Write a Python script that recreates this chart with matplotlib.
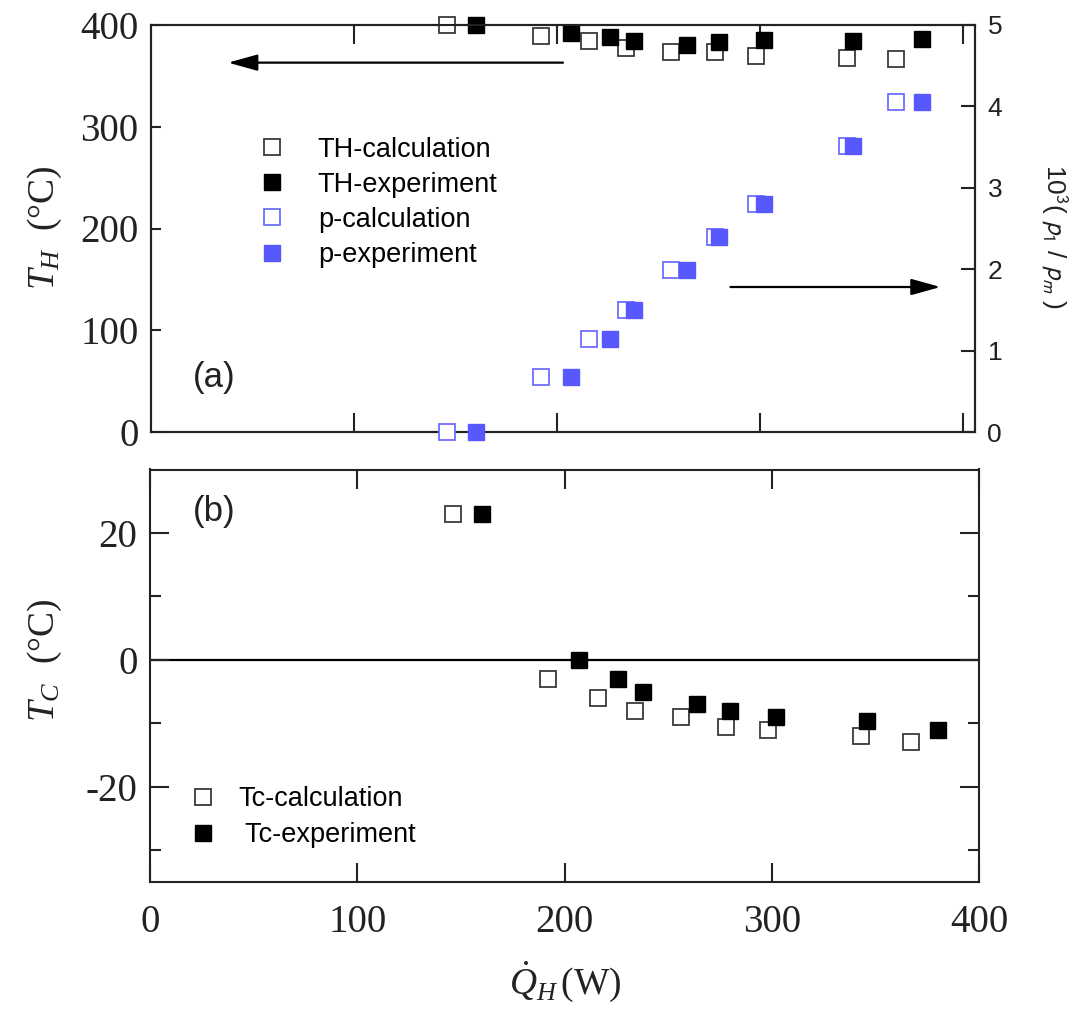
import matplotlib
matplotlib.use('Agg')
import matplotlib.pyplot as plt

# ---------------- data ----------------
q_calc = [146, 192, 216, 234, 256, 278, 298, 343, 367]
q_exp = [160, 207, 226, 238, 264, 280, 302, 346, 380]
th_calc = [400, 389, 384, 377, 373, 373, 370, 368, 367]
th_exp = [400, 392, 388, 384, 380, 383, 385, 384, 386]
p_calc = [0, 0.68, 1.14, 1.50, 1.99, 2.39, 2.80, 3.51, 4.05]
p_exp = [0, 0.68, 1.14, 1.50, 1.99, 2.39, 2.80, 3.51, 4.05]
tc_calc = [23, -3, -6, -8, -9, -10.6, -11, -12, -13]
tc_exp = [23, 0, -3, -5, -7, -8, -9, -9.6, -11]

top_labels = ['TH-calculation', 'TH-experiment', 'p-calculation', 'p-experiment']
bot_labels = ['Tc-calculation', ' Tc-experiment']

# ---------------- style ----------------
plt.rcParams['mathtext.fontset'] = 'custom'
plt.rcParams['mathtext.rm'] = 'Liberation Serif'
plt.rcParams['mathtext.it'] = 'Liberation Serif:italic'
plt.rcParams['axes.unicode_minus'] = False

SERIF = 'Liberation Serif'
SANS = 'Liberation Sans'
W, H = 1087, 1017
fig = plt.figure(figsize=(W / 100, H / 100), dpi=100)

ax1 = fig.add_axes([151 / W, 1 - 432 / H, 824 / W, 407 / H])
ax2 = ax1.twinx()
ax3 = fig.add_axes([150 / W, 1 - 882 / H, 829 / W, (882 - 469.5) / H])

ms = 11.5
open_blk = dict(marker='s', ls='none', ms=ms, mfc='white', mec='#3a3a3a', mew=1.3, clip_on=False)
fill_blk = dict(marker='s', ls='none', ms=ms, mfc='black', mec='black', mew=1.0, clip_on=False)
open_blu = dict(marker='s', ls='none', ms=ms, mfc='white', mec='#6e6eff', mew=1.3, clip_on=False)
fill_blu = dict(marker='s', ls='none', ms=ms, mfc='#5858ff', mec='#5858ff', mew=1.0, clip_on=False)

h1, = ax1.plot(q_calc, th_calc, **open_blk, zorder=3)
h2, = ax1.plot(q_exp, th_exp, **fill_blk, zorder=4)
h3, = ax2.plot(q_calc, p_calc, **open_blu, zorder=3)
h4, = ax2.plot(q_exp, p_exp, **fill_blu, zorder=4)

ax1.set_xlim(0, 406)
ax1.set_ylim(0, 400)
ax2.set_ylim(0, 5)

# arrows
ap = dict(arrowstyle='-|>,head_length=0.9,head_width=0.25', color='black', lw=1.6,
          mutation_scale=20, shrinkA=0, shrinkB=0)
ax1.annotate('', xy=(38, 363), xytext=(203, 363), arrowprops=ap)
ax1.annotate('', xy=(389, 142.5), xytext=(285.5, 142.5), arrowprops=ap)

# bottom panel
ax3.axhline(0, color='black', lw=1.6, zorder=1)
ax3.plot(q_calc, tc_calc, **open_blk, zorder=3)
ax3.plot(q_exp, tc_exp, **fill_blk, zorder=4)
ax3.set_xlim(0, 400)
ax3.set_ylim(-35, 30)

for ax in (ax1, ax2, ax3):
    for s in ax.spines.values():
        s.set_linewidth(1.5)
        s.set_color('#222222')

# ticks top panel
ax1.set_xticks([100, 200, 300, 400])
ax1.tick_params(axis='x', direction='in', top=True, bottom=True, length=14, width=1.5,
                labelbottom=False, colors='#222222')
ax1.set_yticks([0, 100, 200, 300, 400])
ax1.tick_params(axis='y', direction='in', left=True, right=False, length=7, width=1.5,
                labelsize=28, pad=9, colors='#222222', labelcolor='#222222')
for t in ax1.get_yticklabels():
    t.set_fontfamily(SERIF)
ax2.set_yticks([0, 1, 2, 3, 4, 5])
ax2.tick_params(axis='y', direction='in', right=True, length=10, width=1.5,
                labelsize=19, pad=9, colors='#222222', labelcolor='#222222')
for t in ax2.get_yticklabels():
    t.set_fontfamily(SANS)

# ticks bottom panel
ax3.set_xticks([0, 100, 200, 300, 400])
ax3.tick_params(axis='x', direction='in', top=True, bottom=True, length=14, width=1.5,
                labelsize=28, pad=16, colors='#222222', labelcolor='#222222')
ax3.set_yticks([-20, 0, 20])
ax3.set_yticks([-30, -10, 10], minor=True)
ax3.tick_params(axis='y', which='major', direction='in', left=True, right=True, length=14,
                width=1.5, labelsize=28, pad=9, colors='#222222', labelcolor='#222222')
ax3.tick_params(axis='y', which='minor', direction='in', left=True, right=True, length=8,
                width=1.5, colors='#222222')
for t in ax3.get_xticklabels() + ax3.get_yticklabels():
    t.set_fontfamily(SERIF)

# legends
ax2.legend([h1, h2, h3, h4], top_labels, loc='upper left', bbox_to_anchor=(0.130, 0.726),
           frameon=False, prop=dict(family=SANS, size=19.5), handlelength=1.0,
           handletextpad=1.2, labelspacing=0.34, borderpad=0, borderaxespad=0, numpoints=1)
hb1, = ax3.plot([], [], **open_blk)
hb2, = ax3.plot([], [], **fill_blk)
ax3.legend([hb1, hb2], bot_labels, loc='upper left', bbox_to_anchor=(0.0476, 0.232),
           frameon=False, prop=dict(family=SANS, size=19.5), handlelength=1.0,
           handletextpad=0.8, labelspacing=0.36, borderpad=0, borderaxespad=0, numpoints=1)

# panel labels
ax1.text(0.051, 0.133, '(a)', transform=ax1.transAxes, fontsize=25, family=SANS,
         va='center', ha='left', color='#222222')
ax3.text(0.052, 0.897, '(b)', transform=ax3.transAxes, fontsize=25, family=SANS,
         va='center', ha='left', color='#222222')

# axis labels
fig.text(45 / W, 1 - 228 / H, r'$T_H$  (°C)', rotation=90, ha='center', va='center',
         fontsize=27, family=SERIF, color='#222222')
fig.text(45 / W, 1 - 660 / H, r'$T_C$  (°C)', rotation=90, ha='center', va='center',
         fontsize=27, family=SERIF, color='#222222')
fig.text(1054 / W, 1 - 236 / H, r'10$^3$( $p_1$ / $p_m$ )', rotation=270, ha='center',
         va='center', fontsize=19, family=SANS, math_fontfamily='stixsans', color='#222222')
fig.text(565 / W, 1 - 982 / H, r'$\dot{Q}_H\,$(W)', ha='center', va='center',
         fontsize=27, family=SERIF, color='#222222')

fig.savefig('out.png', dpi=100)
